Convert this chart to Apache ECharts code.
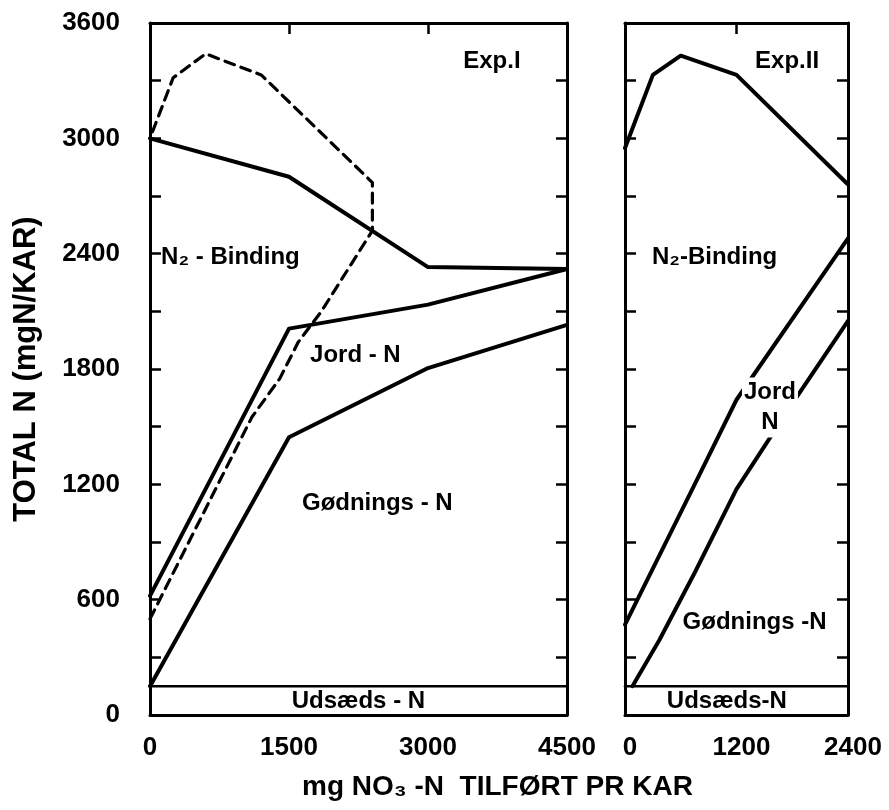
<!DOCTYPE html>
<html>
<head>
<meta charset="utf-8">
<script src="https://cdn.jsdelivr.net/npm/echarts@6/dist/echarts.min.js"></script>
<style>
  html, body { margin: 0; padding: 0; background: #fff; }
  #chart { width: 889px; height: 810px; }
</style>
</head>
<body>
<div id="chart"></div>
<script>
// Exp. I (left panel)
const exp1Total = [[0, 3000], [1500, 2800], [3000, 2330], [4500, 2320]]
const exp1Jord = [[0, 620], [1500, 2010], [3000, 2135], [4500, 2320]]
const exp1Godning = [[0, 150], [1500, 1445], [3000, 1805], [4500, 2030]]
const exp1Dashed = [
  [0, 500], [1100, 1550], [1400, 1750], [1600, 1940], [1850, 2100], [2400, 2520],
  [2400, 2770], [1200, 3330], [600, 3440], [250, 3315], [0, 3000],
]
const exp1Udsaed = [[0, 150], [4500, 150]]

// Exp. II (right panel)
const exp2Total = [[0, 2950], [300, 3330], [600, 3430], [1200, 3330], [2400, 2760]]
const exp2Jord = [[0, 470], [750, 1200], [1200, 1640], [2400, 2480]]
const exp2Godning = [[80, 150], [370, 390], [750, 740], [1200, 1175], [1800, 1620], [2400, 2050]]
const exp2Udsaed = [[0, 150], [2400, 150]]

// text labels placed in data coordinates
const exp1Labels = [
  [3690, 3400, 'Exp.I', 'center'],
  [120, 2380, 'N₂ - Binding', 'left'],
  [1727, 1870, 'Jord - N', 'left'],
  [1640, 1100, 'Gødnings - N', 'left'],
  [1530, 72, 'Udsæds - N', 'left'],
]
const exp2Labels = [
  [1744, 3400, 'Exp.II', 'center'],
  [290, 2380, 'N₂-Binding', 'left'],
  [620, 480, 'Gødnings -N', 'left'],
  [450, 72, 'Udsæds-N', 'left'],
]
const exp2JordLabel = [[1560, 1600, 'Jord\nN']]

const yTicks = { min: 0, max: 3600, interval: 300 }
const exp1XTicks = { min: 0, max: 4500, interval: 1500 }
const exp2XTicks = { min: 0, max: 2400, interval: 1200 }

const FONT = 'Liberation Sans'
const INK = '#000'
const axisLine = { show: true, onZero: false, lineStyle: { color: INK, width: 3 } }
const tickIn = { show: true, inside: true, length: 11, lineStyle: { color: INK, width: 2.5 } }
const tickLabel = {
  color: INK, fontFamily: FONT, fontWeight: 'bold', fontSize: 26,
}

const chart = echarts.init(document.getElementById('chart'))

function xAxes(grid, ticks, pad) {
  return [
    {
      type: 'value', gridIndex: grid, position: 'bottom', ...ticks,
      axisLine, axisTick: { show: false }, splitLine: { show: false },
      axisLabel: { ...tickLabel, margin: 20, padding: pad, formatter: (v) => String(v) },
    },
    {
      type: 'value', gridIndex: grid, position: 'top', ...ticks,
      axisLine, axisTick: tickIn, splitLine: { show: false },
      axisLabel: { show: false },
    },
  ]
}

function yAxes(grid, withLabels) {
  return [
    {
      type: 'value', gridIndex: grid, position: 'left', ...yTicks,
      axisLine, axisTick: tickIn, splitLine: { show: false },
      axisLabel: withLabels
        ? { ...tickLabel, margin: 30, formatter: (v) => (v % 600 === 0 ? String(v) : '') }
        : { show: false },
      name: withLabels ? 'TOTAL N (mgN/KAR)' : '',
      nameLocation: 'middle',
      nameGap: 108,
      nameTextStyle: { color: INK, fontFamily: FONT, fontWeight: 'bold', fontSize: 31 },
    },
    {
      type: 'value', gridIndex: grid, position: 'right', ...yTicks,
      axisLine, axisTick: tickIn, splitLine: { show: false },
      axisLabel: { show: false },
    },
  ]
}

function line(data, xi, yi, dashed, width) {
  return {
    type: 'line', data, xAxisIndex: xi, yAxisIndex: yi,
    symbol: 'none', silent: true, clip: false,
    lineStyle: { color: INK, width: width || 4, type: dashed ? [10, 7] : 'solid', cap: 'round', join: 'round' },
  }
}

function labels(items, xi, yi, extra) {
  return {
    type: 'scatter', xAxisIndex: xi, yAxisIndex: yi, symbolSize: 1, silent: true, z: 5,
    itemStyle: { opacity: 0 },
    data: items.map((d) => ({
      value: [d[0], d[1]],
      label: {
        show: true, formatter: d[2], position: 'inside', align: d[3] || 'center',
        verticalAlign: 'middle', opacity: 1,
        color: INK, fontFamily: FONT, fontWeight: 'bold', fontSize: 24,
        ...extra,
      },
    })),
  }
}

chart.setOption({
  animation: false,
  backgroundColor: '#fff',
  grid: [
    { left: 150, right: 322, top: 23, bottom: 95, containLabel: false, outerBoundsMode: 'none' },
    { left: 625, right: 41, top: 23, bottom: 95, containLabel: false, outerBoundsMode: 'none' },
  ],
  xAxis: [...xAxes(0, exp1XTicks, 0), ...xAxes(1, exp2XTicks, [0, 0, 0, 10])],
  yAxis: [...yAxes(0, true), ...yAxes(1, false)],
  graphic: [
    {
      type: 'text', left: 302, top: 773,
      style: {
        text: 'mg NO₃ -N  TILFØRT PR KAR',
        fill: INK, fontFamily: FONT, fontWeight: 'bold', fontSize: 28,
      },
    },
  ],
  series: [
    line(exp1Total, 0, 0),
    line(exp1Jord, 0, 0),
    line(exp1Godning, 0, 0),
    line(exp1Dashed, 0, 0, true, 3.2),
    line(exp1Udsaed, 0, 0, false, 2.5),
    line(exp2Total, 2, 2),
    line(exp2Jord, 2, 2),
    line(exp2Godning, 2, 2),
    line(exp2Udsaed, 2, 2, false, 2.5),
    labels(exp1Labels, 0, 0),
    labels(exp2Labels, 2, 2),
    labels(exp2JordLabel, 2, 2, { backgroundColor: '#fff', lineHeight: 30, padding: [0, 2] }),
  ],
})
</script>
</body>
</html>
